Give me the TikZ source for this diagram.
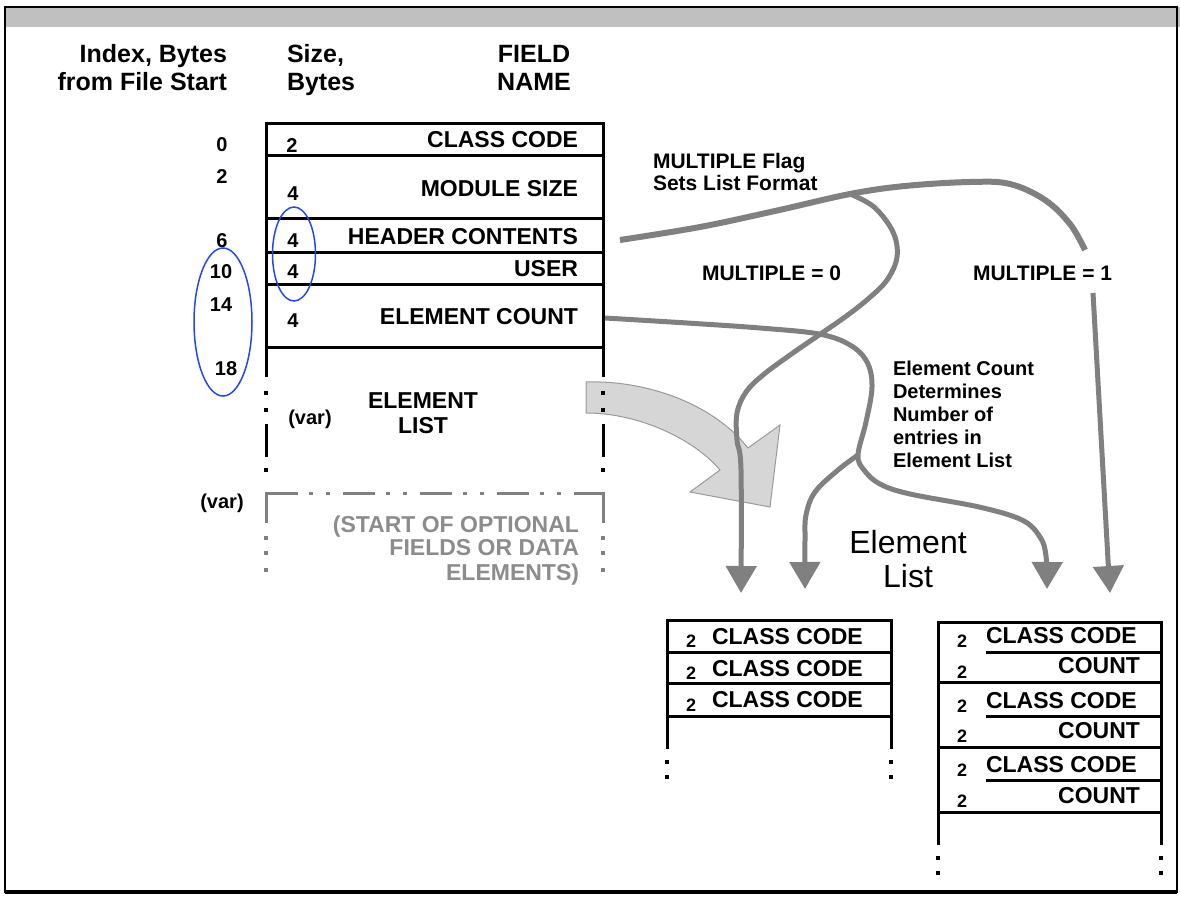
\documentclass[tikz,border=0pt]{standalone}
\usepackage{fontspec}
\setmainfont{Liberation Sans}
\usetikzlibrary{arrows.meta}
\definecolor{gline}{HTML}{808080}
\definecolor{garrow}{HTML}{D6D6D6}
\definecolor{gedge}{HTML}{9A9A9A}
\definecolor{gtext}{HTML}{8C8C8C}
\definecolor{gband}{HTML}{C0C0C0}
\definecolor{eblue}{HTML}{2448F0}
\newcommand\fz[1]{\fontsize{#1pt}{#1pt}\selectfont}
\begin{document}
\begin{tikzpicture}[x=1pt,y=-1pt,
  every node/.style={inner sep=0pt, outer sep=0pt},
  hdr/.style={font=\fz{25}\bfseries},
  fld/.style={font=\fz{23}\bfseries},
  num/.style={font=\fz{20}\bfseries},
  sml/.style={font=\fz{18}\bfseries},
  lbl/.style={font=\fz{21}\bfseries},
  note/.style={font=\fz{20}\bfseries},
  opt/.style={font=\fz{23}\bfseries, text=gtext},
  big/.style={font=\fz{32}},
  tline/.style={line width=3pt, line cap=rect},
  gvline/.style={line width=3pt, draw=gline},
  conn/.style={line width=5pt, draw=gline, line join=round},
  tipconn/.style={conn, -{Triangle[width=30pt,length=27pt]}},
]
\useasboundingbox (0,0) rectangle (1180,897);
\fill[white] (0,0) rectangle (1180,897);
% window frame
\fill[gband] (5,7) rectangle (1180,27);
\draw[line width=2.5pt] (5,7) rectangle (1177,892);
\draw[line width=4pt] (5,892) -- (1177,892);

% big grey block arrow
\draw[fill=garrow, draw=gedge, line width=1pt]
  (586,382) .. controls (640,380) and (710,400) .. (748,448)
  -- (780,425) -- (770,507) -- (690,492) -- (720,470)
  .. controls (695,440) and (640,413) .. (586,413) -- cycle;

% main table
\draw[tline] (266,347) -- (266,123) -- (603,123) -- (603,347);
\foreach \y in {155,218,252,284,347} \draw[tline] (266,\y) -- (603,\y);
\foreach \x in {266,603} {
  \draw[tline] (\x,347) -- (\x,375);
  \draw[tline] (\x,425) -- (\x,455);
  \foreach \y in {393,410,470} \fill (\x-2,\y-2) rectangle (\x+2,\y+2);
}
% optional fields box
\draw[gvline, dash pattern=on 32pt off 11pt on 4pt off 13pt on 4pt off 13pt] (266,493) -- (603,493);
\foreach \x in {266,603} {
  \draw[gvline] (\x,492) -- (\x,523);
  \foreach \y in {538,553,570} \fill[gline] (\x-2,\y-2) rectangle (\x+2,\y+2);
}

% bottom left table (MULTIPLE = 0)
\draw[tline] (667,747) -- (667,620) -- (891,620) -- (891,747);
\foreach \y in {652,683,716} \draw[tline] (667,\y) -- (891,\y);
\foreach \x in {667,891} \foreach \y in {762,777} \fill (\x-2,\y-2) rectangle (\x+2,\y+2);

% bottom right table (MULTIPLE = 1)
\draw[tline] (938,843) -- (938,622) -- (1161,622) -- (1161,843);
\foreach \y in {682,747,812} \draw[tline] (938,\y) -- (1161,\y);
\foreach \y in {652,716,780} \draw[tline] (987,\y) -- (1161,\y);
\foreach \x in {938,1161} \foreach \y in {858,873} \fill (\x-2,\y-2) rectangle (\x+2,\y+2);

% connector coordinates
\coordinate (hc) at (620,240);
\coordinate (J1) at (850,194);
\coordinate (m1a) at (1085,250);
\coordinate (m1b) at (1093,293);
\coordinate (ec) at (605,318);
\coordinate (B) at (858,455);
\coordinate (t1) at (741,593);
\coordinate (t2) at (805,589);
\coordinate (t3) at (1047,589);
\coordinate (t4) at (1110,593);

% connectors
\draw[conn, line width=6pt] plot[smooth,tension=0.6] coordinates {(hc) (700,227) (775,211) (J1) (905,186) (970,182) (1010,184) (1045,200) (1070,224) (m1a)};
\draw[tipconn] (m1b) -- (1108,560) -- (t4);
\draw[tipconn] plot[smooth,tension=0.6] coordinates {(J1) (874,207) (893,232) (897,257) (887,280) (868,299) (845,317) (819,335) (790,355) (763,375) (746,392) (737,413) (737,440) (741,470) (t1)};
\draw[tipconn] plot[smooth,tension=0.6] coordinates {(ec) (687,323) (760,328) (819,334) (850,345) (867,362) (872,387) (866,422) (B) (864,470) (880,484) (910,494) (979,507) (1022,520) (1040,537) (1046,556) (t3)};
\draw[tipconn] plot[smooth,tension=0.6] coordinates {(B) (838,470) (815,492) (806,515) (805,540) (t2)};

% headers
\node[hdr, anchor=base east] (ixa) at (227,62) {Index, Bytes};
\node[hdr, anchor=base east] (ixb) at (227,90) {from File Start};
\node[hdr, anchor=base west] (sza) at (287,62) {Size,};
\node[hdr, anchor=base west] (szb) at (287,90) {Bytes};
\node[hdr, anchor=base] (fna) at (534,62) {FIELD};
\node[hdr, anchor=base] (fnb) at (534,90) {NAME};

% index column
\node[num, anchor=base] (i0) at (222,151) {0};
\node[num, anchor=base] (i2) at (222,183) {2};
\node[num, anchor=base] (i6) at (222,247) {6};
\node[num, anchor=base] (i10) at (221,278) {10};
\node[num, anchor=base] (i14) at (221,311) {14};
\node[num, anchor=base] (i18) at (226,375) {18};
\node[num, anchor=base] (ivar) at (222,508) {(var)};

% size column
\node[num, anchor=base] (s1) at (292,152) {2};
\node[num, anchor=base] (s2) at (293,200) {4};
\node[num, anchor=base] (s3) at (293,247) {4};
\node[num, anchor=base] (s4) at (293,278) {4};
\node[num, anchor=base] (s5) at (293,327) {4};
\node[num, anchor=base] (s6) at (310,424) {(var)};

% field names
\node[fld, anchor=base east] (f1) at (578,147) {CLASS CODE};
\node[fld, anchor=base east] (f2) at (578,196) {MODULE SIZE};
\node[fld, anchor=base east] (f3) at (578,244) {HEADER CONTENTS};
\node[fld, anchor=base east] (f4) at (578,276) {USER};
\node[fld, anchor=base east] (f5) at (578,324) {ELEMENT COUNT};
\node[fld, anchor=base] (f6a) at (423,408) {ELEMENT};
\node[fld, anchor=base] (f6b) at (423,433) {LIST};
\node[opt, anchor=base east] (o1) at (579,532) {(START OF OPTIONAL};
\node[opt, anchor=base east] (o2) at (579,555) {FIELDS OR DATA};
\node[opt, anchor=base east] (o3) at (579,580) {ELEMENTS)};

% labels
\node[lbl, anchor=base west] (mf1) at (653,168) {MULTIPLE Flag};
\node[lbl, anchor=base west] (mf2) at (653,190) {Sets List Format};
\node[lbl, anchor=base west] (m0) at (702,280) {MULTIPLE = 0};
\node[lbl, anchor=base west] (m1) at (973,280) {MULTIPLE = 1};
\node[note, anchor=base west] (n1) at (893,375) {Element Count};
\node[note, anchor=base west] (n2) at (893,398) {Determines};
\node[note, anchor=base west] (n3) at (893,421) {Number of};
\node[note, anchor=base west] (n4) at (893,444) {entries in};
\node[note, anchor=base west] (n5) at (893,467) {Element List};
\node[big, anchor=base] (el1) at (908,553) {Element};
\node[big, anchor=base] (el2) at (908,587) {List};

% bottom left table text
\foreach \b/\n [count=\i] in {644/647,676/679,707/711} {
  \node[sml, anchor=base] (la\i) at (691,\n) {2};
  \node[fld, anchor=base west] (lb\i) at (712,\b) {CLASS CODE};
}
% bottom right table text
\foreach \c/\cn/\d/\dn [count=\i] in {643/647/673/678,708/712/738/742,772/776/803/807} {
  \node[sml, anchor=base] (ra\i) at (962,\cn) {2};
  \node[fld, anchor=base west] (rb\i) at (986,\c) {CLASS CODE};
  \node[sml, anchor=base] (rc\i) at (962,\dn) {2};
  \node[fld, anchor=base east] (rd\i) at (1140,\d) {COUNT};
}

% blue ellipses
\draw[eblue, line width=1.5pt] (294,254) ellipse [x radius=21.5pt, y radius=47pt];
\draw[eblue, line width=1.5pt] (223,322) ellipse [x radius=29pt, y radius=74pt];
\end{tikzpicture}
\end{document}
